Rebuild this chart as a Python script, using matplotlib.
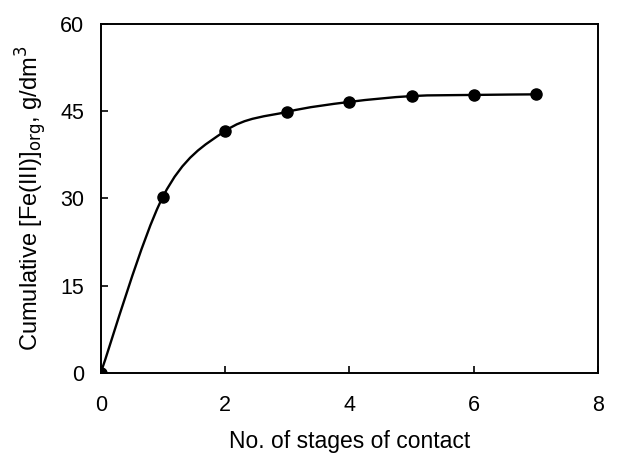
import numpy as np
import matplotlib
matplotlib.use('Agg')
import matplotlib.pyplot as plt
from matplotlib.path import Path
from matplotlib.patches import PathPatch

plt.rcParams['font.family'] = ['Liberation Sans', 'DejaVu Sans']

stages = [0, 1, 2, 3, 4, 5, 6, 7]
fe_cum = [0.0, 30.3, 41.6, 44.9, 46.6, 47.6, 47.8, 47.9]
x_ticks = [0, 2, 4, 6, 8]
y_ticks = [0, 15, 30, 45, 60]


def smooth_path(x, y, tension=6.0):
    # Catmull-Rom style cubic bezier through the points
    x = np.asarray(x, float)
    y = np.asarray(y, float)
    verts = [(x[0], y[0])]
    codes = [Path.MOVETO]
    n = len(x)
    for i in range(n - 1):
        p0 = i - 1 if i > 0 else i
        p3 = i + 2 if i + 2 < n else i + 1
        c1 = (x[i] + (x[i + 1] - x[p0]) / tension, y[i] + (y[i + 1] - y[p0]) / tension)
        c2 = (x[i + 1] - (x[p3] - x[i]) / tension, y[i + 1] - (y[p3] - y[i]) / tension)
        verts += [c1, c2, (x[i + 1], y[i + 1])]
        codes += [Path.CURVE4] * 3
    return Path(verts, codes)


fig = plt.figure(figsize=(6.18, 4.61), dpi=100)
ax = fig.add_axes([0.163, 0.191, 0.805, 0.757])

ax.add_patch(PathPatch(smooth_path(stages, fe_cum), facecolor='none',
                       edgecolor='black', lw=1.7))
ax.plot(stages, fe_cum, 'o', color='black', markersize=8)

ax.set_xlim(0, 8)
ax.set_ylim(0, 60)
ax.set_xticks(x_ticks)
ax.set_yticks(y_ticks)
ax.tick_params(direction='in', length=5, width=1.2, labelsize=15.5)
ax.tick_params(axis='x', pad=16)
ax.tick_params(axis='y', pad=12)
for s in ax.spines.values():
    s.set_linewidth(1.4)

ax.set_xlabel('No. of stages of contact', fontsize=16.5, labelpad=10)
ax.set_ylabel(r'Cumulative [Fe(III)]$_{\rm org}$, g/dm$^3$', fontsize=17, labelpad=8)

fig.savefig('out.png', dpi=100)
